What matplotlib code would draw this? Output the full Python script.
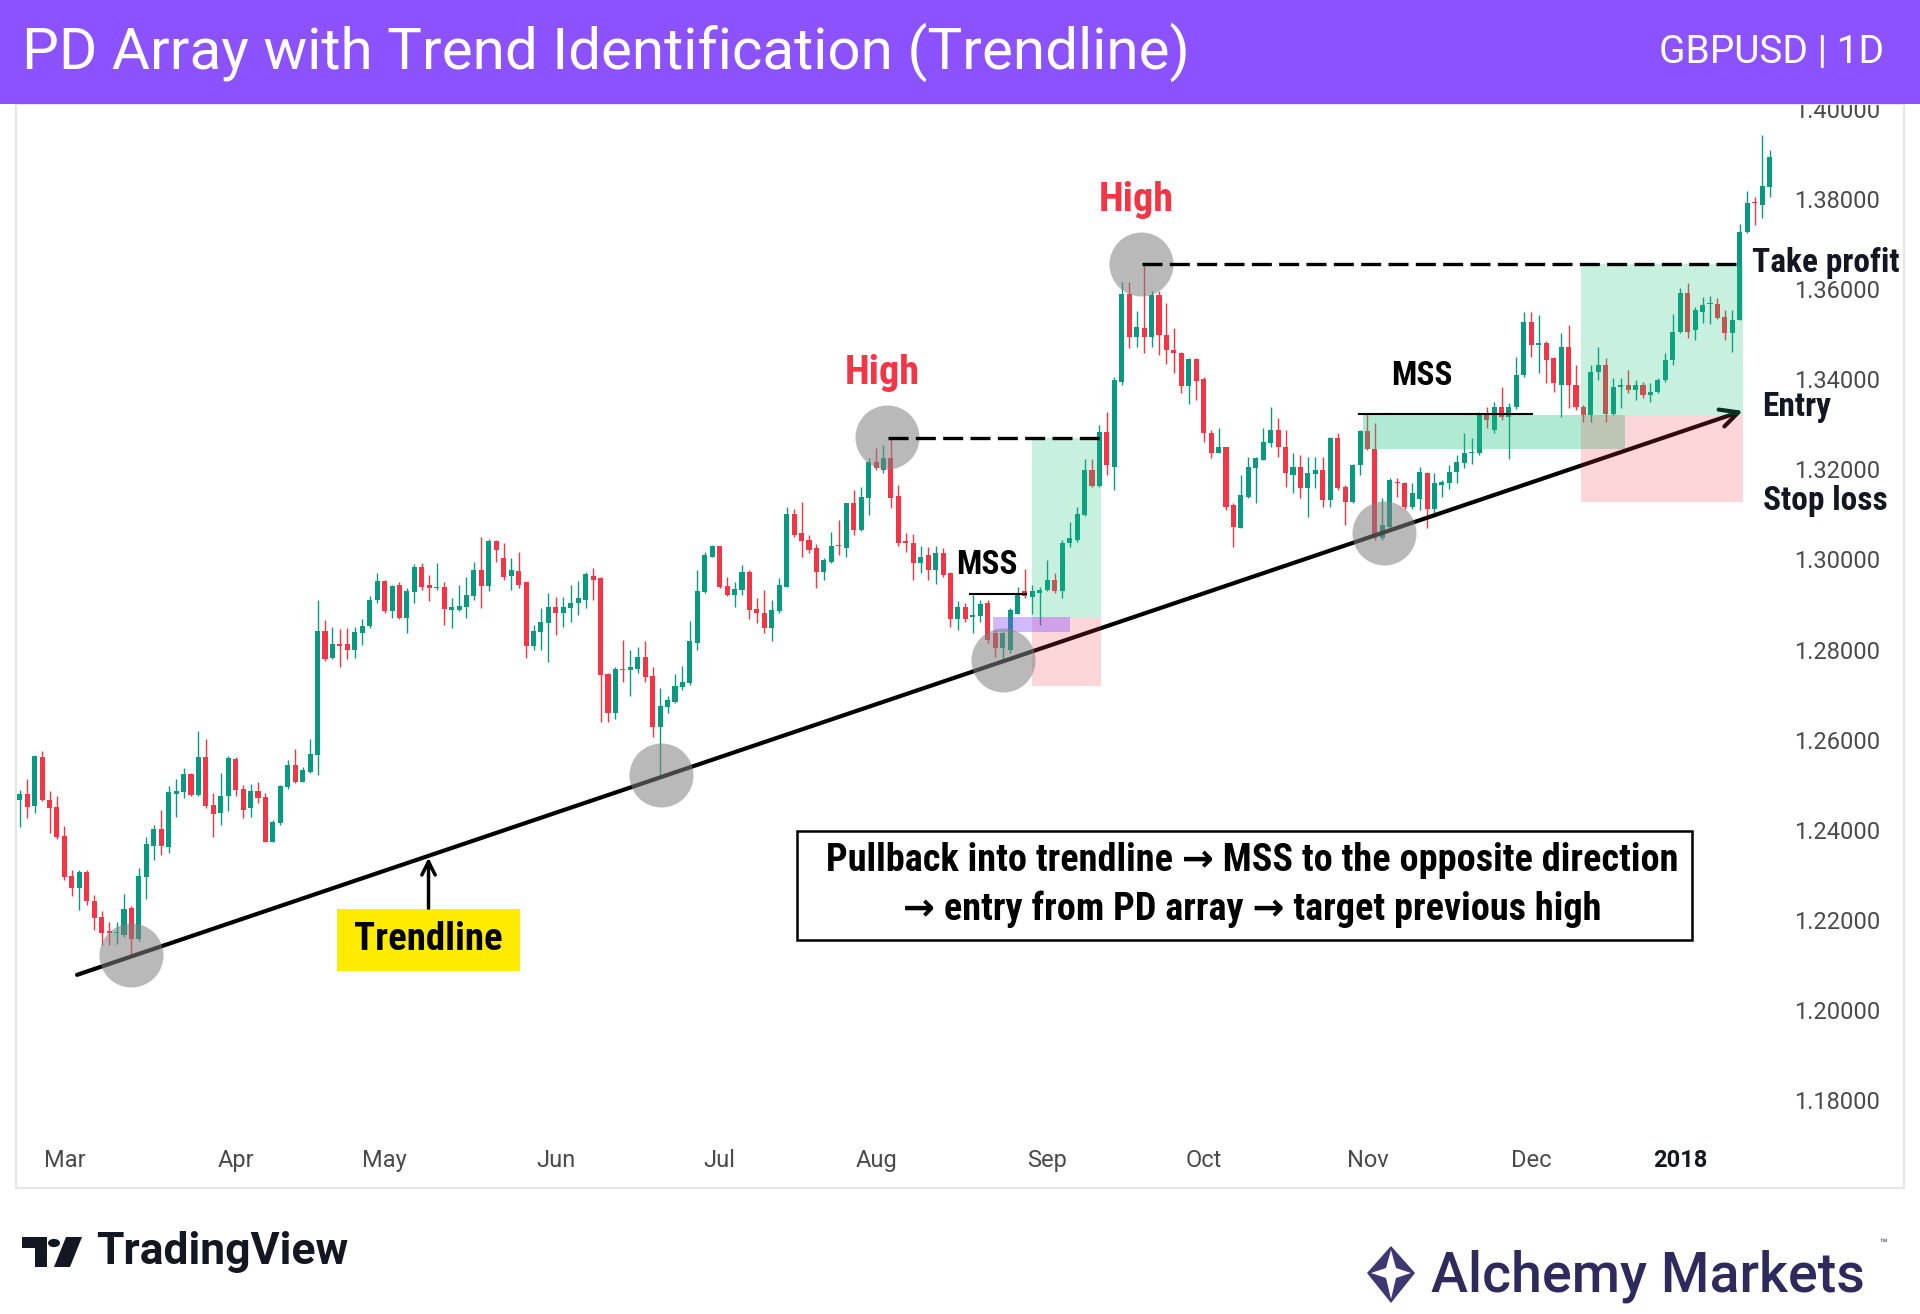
import matplotlib
matplotlib.use("Agg")
import matplotlib.pyplot as plt
from matplotlib import font_manager
from matplotlib.patches import Rectangle, Polygon, Circle
import pandas as pd

# GBPUSD daily bars, 21 Feb 2017 - 17 Jan 2018 (no bar on Christmas day)
dates = pd.bdate_range("2017-02-21", "2018-01-17")
dates = dates[dates != pd.Timestamp("2017-12-25")]

opens = [
    1.2466, 1.2480, 1.2452, 1.2561, 1.2466, 1.2450, 1.2386, 1.2298, 1.2270, 1.2306,
    1.2243, 1.2206, 1.2176, 1.2170, 1.2167, 1.2226, 1.2157, 1.2295, 1.2364, 1.2401,
    1.2361, 1.2480, 1.2483, 1.2524, 1.2477, 1.2561, 1.2455, 1.2437, 1.2474, 1.2557,
    1.2490, 1.2448, 1.2485, 1.2472, 1.2374, 1.2416, 1.2496, 1.2544, 1.2507, 1.2529,
    1.2566, 1.2842, 1.2781, 1.2813, 1.2813, 1.2798, 1.2837, 1.2853, 1.2909, 1.2953,
    1.2885, 1.2944, 1.2870, 1.2927, 1.2984, 1.2944, 1.2936, 1.2940, 1.2888, 1.2887,
    1.2895, 1.2919, 1.2977, 1.2941, 1.3040, 1.3003, 1.2963, 1.2975, 1.2949, 1.2807,
    1.2840, 1.2858, 1.2894, 1.2881, 1.2892, 1.2903, 1.2910, 1.2963, 1.2958, 1.2746,
    1.2659, 1.2758, 1.2755, 1.2758, 1.2783, 1.2741, 1.2629, 1.2673, 1.2684, 1.2718,
    1.2725, 1.2814, 1.2927, 1.3006, 1.3029, 1.2941, 1.2921, 1.2932, 1.2973, 1.2890,
    1.2882, 1.2847, 1.2885, 1.2940, 1.3102, 1.3058, 1.3043, 1.3025, 1.2973, 1.2995,
    1.3032, 1.3025, 1.3125, 1.3066, 1.3136, 1.3217, 1.3198, 1.3225, 1.3140, 1.3040,
    1.3036, 1.2992, 1.3010, 1.2977, 1.3014, 1.2971, 1.2869, 1.2894, 1.2873, 1.2874,
    1.2903, 1.2836, 1.2803, 1.2799, 1.2880, 1.2931, 1.2917, 1.2926, 1.2932, 1.2954,
    1.2929, 1.3036, 1.3043, 1.3099, 1.3199, 1.3163, 1.3284, 1.3206, 1.3395, 1.3589,
    1.3493, 1.3513, 1.3493, 1.3587, 1.3498, 1.3465, 1.3458, 1.3385, 1.3444, 1.3400,
    1.3280, 1.3237, 1.3250, 1.3121, 1.3071, 1.3139, 1.3202, 1.3221, 1.3258, 1.3287,
    1.3250, 1.3188, 1.3206, 1.3158, 1.3190, 1.3199, 1.3132, 1.3269, 1.3162, 1.3128,
    1.3210, 1.3286, 1.3245, 1.3047, 1.3073, 1.3173, 1.3169, 1.3117, 1.3135, 1.3191,
    1.3113, 1.3165, 1.3169, 1.3195, 1.3214, 1.3236, 1.3237, 1.3321, 1.3287, 1.3339,
    1.3317, 1.3339, 1.3410, 1.3528, 1.3476, 1.3480, 1.3447, 1.3387, 1.3472, 1.3387,
    1.3339, 1.3321, 1.3417, 1.3432, 1.3324, 1.3384, 1.3387, 1.3376, 1.3387, 1.3365,
    1.3372, 1.3398, 1.3443, 1.3506, 1.3591, 1.3509, 1.3550, 1.3567, 1.3567, 1.3539,
    1.3502, 1.3532, 1.3728, 1.3794, 1.3787, 1.3826,
]
highs = [
    1.2489, 1.2512, 1.2566, 1.2576, 1.2485, 1.2475, 1.2409, 1.2311, 1.2310, 1.2310,
    1.2256, 1.2219, 1.2196, 1.2196, 1.2258, 1.2231, 1.2315, 1.2385, 1.2411, 1.2443,
    1.2497, 1.2512, 1.2537, 1.2527, 1.2620, 1.2601, 1.2481, 1.2526, 1.2564, 1.2561,
    1.2500, 1.2502, 1.2507, 1.2481, 1.2422, 1.2500, 1.2554, 1.2579, 1.2539, 1.2601,
    1.2909, 1.2866, 1.2850, 1.2845, 1.2847, 1.2850, 1.2867, 1.2919, 1.2970, 1.2955,
    1.2944, 1.2951, 1.2936, 1.2990, 1.2992, 1.2966, 1.2992, 1.2951, 1.2914, 1.2944,
    1.2962, 1.2995, 1.3051, 1.3045, 1.3044, 1.3036, 1.3003, 1.3017, 1.2951, 1.2855,
    1.2892, 1.2925, 1.2917, 1.2917, 1.2943, 1.2953, 1.2973, 1.2981, 1.2962, 1.2747,
    1.2761, 1.2821, 1.2799, 1.2806, 1.2818, 1.2762, 1.2714, 1.2696, 1.2746, 1.2764,
    1.2864, 1.2977, 1.3017, 1.3032, 1.3030, 1.2962, 1.2949, 1.2988, 1.2977, 1.2914,
    1.2932, 1.2910, 1.2958, 1.3116, 1.3112, 1.3128, 1.3054, 1.3034, 1.3003, 1.3062,
    1.3088, 1.3126, 1.3154, 1.3162, 1.3225, 1.3247, 1.3254, 1.3270, 1.3165, 1.3058,
    1.3057, 1.3030, 1.3028, 1.3030, 1.3025, 1.2973, 1.2907, 1.2903, 1.2921, 1.2911,
    1.2911, 1.2843, 1.2840, 1.2892, 1.2940, 1.2980, 1.2943, 1.2940, 1.2999, 1.2969,
    1.3043, 1.3084, 1.3117, 1.3224, 1.3224, 1.3299, 1.3328, 1.3406, 1.3617, 1.3617,
    1.3552, 1.3655, 1.3595, 1.3595, 1.3570, 1.3513, 1.3461, 1.3447, 1.3447, 1.3406,
    1.3287, 1.3291, 1.3250, 1.3125, 1.3187, 1.3228, 1.3228, 1.3291, 1.3339, 1.3313,
    1.3287, 1.3236, 1.3232, 1.3227, 1.3227, 1.3227, 1.3273, 1.3280, 1.3165, 1.3213,
    1.3287, 1.3323, 1.3302, 1.3136, 1.3180, 1.3180, 1.3173, 1.3169, 1.3205, 1.3195,
    1.3191, 1.3176, 1.3210, 1.3232, 1.3280, 1.3269, 1.3328, 1.3339, 1.3350, 1.3384,
    1.3347, 1.3450, 1.3550, 1.3550, 1.3543, 1.3484, 1.3450, 1.3502, 1.3521, 1.3432,
    1.3343, 1.3432, 1.3472, 1.3447, 1.3402, 1.3402, 1.3421, 1.3398, 1.3395, 1.3391,
    1.3402, 1.3458, 1.3546, 1.3602, 1.3613, 1.3561, 1.3583, 1.3585, 1.3580, 1.3554,
    1.3554, 1.3745, 1.3819, 1.3805, 1.3942, 1.3910,
]
lows = [
    1.2407, 1.2426, 1.2437, 1.2463, 1.2392, 1.2379, 1.2289, 1.2252, 1.2222, 1.2233,
    1.2178, 1.2145, 1.2145, 1.2147, 1.2163, 1.2122, 1.2154, 1.2246, 1.2333, 1.2344,
    1.2348, 1.2429, 1.2470, 1.2475, 1.2474, 1.2448, 1.2385, 1.2411, 1.2441, 1.2474,
    1.2426, 1.2429, 1.2459, 1.2372, 1.2372, 1.2411, 1.2490, 1.2503, 1.2505, 1.2527,
    1.2522, 1.2774, 1.2779, 1.2762, 1.2779, 1.2781, 1.2811, 1.2848, 1.2904, 1.2882,
    1.2870, 1.2868, 1.2836, 1.2904, 1.2933, 1.2907, 1.2933, 1.2855, 1.2848, 1.2885,
    1.2870, 1.2910, 1.2892, 1.2929, 1.2995, 1.2955, 1.2932, 1.2936, 1.2781, 1.2799,
    1.2799, 1.2773, 1.2832, 1.2851, 1.2862, 1.2877, 1.2892, 1.2910, 1.2640, 1.2640,
    1.2647, 1.2729, 1.2696, 1.2747, 1.2729, 1.2607, 1.2522, 1.2659, 1.2681, 1.2710,
    1.2721, 1.2799, 1.2925, 1.3005, 1.2936, 1.2918, 1.2895, 1.2921, 1.2869, 1.2858,
    1.2836, 1.2818, 1.2882, 1.2938, 1.3051, 1.3006, 1.3014, 1.2936, 1.2954, 1.2992,
    1.3010, 1.3005, 1.3054, 1.3064, 1.3099, 1.3199, 1.3191, 1.3114, 1.3029, 1.3017,
    1.2955, 1.2969, 1.2955, 1.2946, 1.2962, 1.2851, 1.2844, 1.2862, 1.2836, 1.2862,
    1.2814, 1.2784, 1.2775, 1.2792, 1.2880, 1.2914, 1.2880, 1.2854, 1.2929, 1.2925,
    1.2914, 1.3028, 1.3039, 1.3096, 1.3162, 1.3162, 1.3188, 1.3154, 1.3387, 1.3469,
    1.3471, 1.3458, 1.3472, 1.3454, 1.3435, 1.3413, 1.3369, 1.3345, 1.3354, 1.3261,
    1.3225, 1.3236, 1.3110, 1.3028, 1.3069, 1.3136, 1.3125, 1.3221, 1.3250, 1.3228,
    1.3162, 1.3147, 1.3136, 1.3095, 1.3158, 1.3117, 1.3117, 1.3154, 1.3077, 1.3125,
    1.3188, 1.3243, 1.3043, 1.3043, 1.3069, 1.3139, 1.3113, 1.3113, 1.3110, 1.3069,
    1.3095, 1.3139, 1.3156, 1.3169, 1.3202, 1.3213, 1.3232, 1.3291, 1.3280, 1.3310,
    1.3222, 1.3335, 1.3406, 1.3450, 1.3413, 1.3391, 1.3372, 1.3317, 1.3336, 1.3332,
    1.3306, 1.3306, 1.3398, 1.3306, 1.3321, 1.3336, 1.3369, 1.3354, 1.3358, 1.3350,
    1.3369, 1.3395, 1.3432, 1.3502, 1.3491, 1.3487, 1.3524, 1.3523, 1.3533, 1.3487,
    1.3461, 1.3532, 1.3724, 1.3742, 1.3757, 1.3804,
]
closes = [
    1.2480, 1.2450, 1.2563, 1.2466, 1.2448, 1.2384, 1.2296, 1.2270, 1.2306, 1.2241,
    1.2204, 1.2170, 1.2170, 1.2172, 1.2224, 1.2157, 1.2298, 1.2369, 1.2401, 1.2363,
    1.2483, 1.2487, 1.2524, 1.2477, 1.2561, 1.2453, 1.2435, 1.2475, 1.2559, 1.2489,
    1.2444, 1.2487, 1.2470, 1.2374, 1.2418, 1.2497, 1.2544, 1.2507, 1.2532, 1.2569,
    1.2842, 1.2779, 1.2813, 1.2808, 1.2798, 1.2838, 1.2853, 1.2910, 1.2953, 1.2885,
    1.2941, 1.2870, 1.2931, 1.2984, 1.2940, 1.2936, 1.2940, 1.2890, 1.2894, 1.2897,
    1.2921, 1.2977, 1.2941, 1.3042, 1.3020, 1.2962, 1.2977, 1.2943, 1.2807, 1.2842,
    1.2862, 1.2895, 1.2881, 1.2894, 1.2904, 1.2914, 1.2968, 1.2955, 1.2744, 1.2659,
    1.2758, 1.2755, 1.2762, 1.2783, 1.2740, 1.2629, 1.2675, 1.2688, 1.2719, 1.2727,
    1.2818, 1.2929, 1.3010, 1.3029, 1.2940, 1.2921, 1.2934, 1.2973, 1.2888, 1.2881,
    1.2847, 1.2888, 1.2943, 1.3102, 1.3054, 1.3040, 1.3021, 1.2973, 1.2999, 1.3030,
    1.3030, 1.3125, 1.3066, 1.3138, 1.3217, 1.3202, 1.3225, 1.3136, 1.3036, 1.3036,
    1.2992, 1.3006, 1.2977, 1.3014, 1.2966, 1.2869, 1.2895, 1.2869, 1.2877, 1.2901,
    1.2821, 1.2803, 1.2836, 1.2888, 1.2921, 1.2919, 1.2929, 1.2932, 1.2954, 1.2929,
    1.3036, 1.3047, 1.3102, 1.3199, 1.3163, 1.3284, 1.3210, 1.3398, 1.3589, 1.3493,
    1.3515, 1.3493, 1.3587, 1.3498, 1.3464, 1.3458, 1.3385, 1.3444, 1.3397, 1.3280,
    1.3236, 1.3250, 1.3117, 1.3073, 1.3143, 1.3206, 1.3225, 1.3261, 1.3287, 1.3250,
    1.3191, 1.3206, 1.3158, 1.3191, 1.3199, 1.3132, 1.3269, 1.3158, 1.3128, 1.3210,
    1.3286, 1.3245, 1.3047, 1.3077, 1.3176, 1.3169, 1.3117, 1.3147, 1.3195, 1.3113,
    1.3169, 1.3172, 1.3195, 1.3217, 1.3236, 1.3239, 1.3321, 1.3310, 1.3339, 1.3317,
    1.3339, 1.3410, 1.3528, 1.3476, 1.3480, 1.3443, 1.3391, 1.3472, 1.3387, 1.3339,
    1.3321, 1.3417, 1.3432, 1.3324, 1.3384, 1.3387, 1.3376, 1.3387, 1.3365, 1.3372,
    1.3398, 1.3443, 1.3506, 1.3591, 1.3506, 1.3554, 1.3565, 1.3569, 1.3537, 1.3502,
    1.3532, 1.3728, 1.3792, 1.3791, 1.3828, 1.3893,
]

price_ticks = [1.18, 1.20, 1.22, 1.24, 1.26, 1.28, 1.30, 1.32, 1.34, 1.36, 1.38, 1.40]

# swing points touched by the trendline and the two highs (bar index, price)
swing_x = [14.9, 86.1, 116.5, 132.1, 150.6, 183.2]
swing_y = [1.2122, 1.2522, 1.3272, 1.2777, 1.3655, 1.3059]

trend_start = (7.7, 1.2078)
trend_end = (231.4, 1.3330)

# first setup (Aug - Sep)
high1_x = 116.6
tp1, entry1, stop1 = 1.3270, 1.2872, 1.2719
trade1_x = (136.0, 145.2)
pd_array1 = (130.7, 141.1, 1.2839, 1.2872)
mss1 = (127.6, 135.1, 1.2923)

# second setup (Nov - Jan)
high2_x = 150.7
tp2, entry2, stop2 = 1.3655, 1.3321, 1.3128
trade2_x = (209.7, 231.4)
mss_zone2 = (180.4, 215.6, 1.3245, 1.3321)
mss2 = (179.9, 203.1, 1.3322)

UP = "#089981"
DOWN = "#f23645"

installed = {f.name for f in font_manager.fontManager.ttflist}
cond = "Roboto"
for name in ["Roboto Condensed", "Liberation Sans Narrow"]:
    if name in installed:
        cond = name
        break
bold = dict(family=[cond, "DejaVu Sans"], fontweight="bold")

plt.rcParams["font.family"] = ["Roboto", "DejaVu Sans"]

W, H = 1920, 1314


def fx(px):
    return px / W


def fy(py):
    return 1 - py / H


fig = plt.figure(figsize=(19.2, 13.14), dpi=100)
fig.patch.set_facecolor("white")
ax = fig.add_axes([fx(16), fy(1130), fx(1780) - fx(16), fy(104) - fy(1130)])

# candles
x = list(range(len(dates)))
colors = [UP if c >= o else DOWN for o, c in zip(opens, closes)]
bottoms = [min(o, c) for o, c in zip(opens, closes)]
heights = [max(abs(c - o), 0.00025) for o, c in zip(opens, closes)]
ax.vlines(x, lows, highs, colors=colors, lw=1.0, zorder=2)
ax.bar(x, heights, bottom=bottoms, width=0.68, color=colors, zorder=2.1)

# trendline
ax.annotate("", xy=trend_end, xytext=trend_start, zorder=3,
            arrowprops=dict(arrowstyle="->", lw=3, color="black",
                            mutation_scale=32, shrinkA=0, shrinkB=0))

# swing circles
ax.scatter(swing_x, swing_y, s=2125, color="#808080", alpha=0.55,
           linewidths=0, zorder=5)

# setup 1 boxes
ax.add_patch(Rectangle((trade1_x[0], entry1), trade1_x[1] - trade1_x[0], tp1 - entry1,
                       facecolor="#22c47f", alpha=0.25, lw=0, zorder=4))
ax.add_patch(Rectangle((trade1_x[0], stop1), trade1_x[1] - trade1_x[0], entry1 - stop1,
                       facecolor=DOWN, alpha=0.2, lw=0, zorder=4))
ax.add_patch(Rectangle((pd_array1[0], pd_array1[2]), pd_array1[1] - pd_array1[0],
                       pd_array1[3] - pd_array1[2],
                       facecolor="#8c52ff", alpha=0.4, lw=0, zorder=4))
ax.plot([high1_x, trade1_x[1]], [tp1, tp1], color="black", lw=2.4,
        linestyle=(0, (6, 2.2)), zorder=6)
ax.plot([mss1[0], mss1[1]], [mss1[2], mss1[2]], color="black", lw=1.5, zorder=6)

# setup 2 boxes
ax.add_patch(Rectangle((mss_zone2[0], mss_zone2[2]), mss_zone2[1] - mss_zone2[0],
                       mss_zone2[3] - mss_zone2[2],
                       facecolor="#22c47f", alpha=0.35, lw=0, zorder=4))
ax.add_patch(Rectangle((trade2_x[0], entry2), trade2_x[1] - trade2_x[0], tp2 - entry2,
                       facecolor="#22c47f", alpha=0.25, lw=0, zorder=4))
ax.add_patch(Rectangle((trade2_x[0], stop2), trade2_x[1] - trade2_x[0], entry2 - stop2,
                       facecolor=DOWN, alpha=0.2, lw=0, zorder=4))
ax.plot([high2_x, trade2_x[1]], [tp2, tp2], color="black", lw=2.4,
        linestyle=(0, (6, 2.2)), zorder=6)
ax.plot([mss2[0], mss2[1]], [mss2[2], mss2[2]], color="black", lw=1.5, zorder=6)

# labels
ax.text(115.8, 1.3414, "High", color=DOWN, fontsize=29, ha="center", va="center", zorder=8, **bold)
ax.text(149.9, 1.3798, "High", color=DOWN, fontsize=29, ha="center", va="center", zorder=8, **bold)
ax.text(129.9, 1.2988, "MSS", color="black", fontsize=24, ha="center", va="center", zorder=8, **bold)
ax.text(188.3, 1.3407, "MSS", color="black", fontsize=24, ha="center", va="center", zorder=8, **bold)
ax.text(232.7, 1.3658, "Take profit", color="#131722", fontsize=24, ha="left", va="center", zorder=8, **bold)
ax.text(234.0, 1.3339, "Entry", color="#131722", fontsize=24, ha="left", va="center", zorder=8, **bold)
ax.text(234.1, 1.3130, "Stop loss", color="#131722", fontsize=24, ha="left", va="center", zorder=8, **bold)

# trendline tag
ax.add_patch(Rectangle((42.6, 1.2087), 24.6, 0.0137, facecolor="#ffeb00", lw=0, zorder=7))
ax.text(54.9, 1.2156, "Trendline", color="black", fontsize=28, ha="center", va="center", zorder=8, **bold)
ax.annotate("", xy=(54.9, 1.2338), xytext=(54.9, 1.2226), zorder=7,
            arrowprops=dict(arrowstyle="->", lw=2.5, color="black",
                            mutation_scale=24, shrinkA=0, shrinkB=0))

# explanation box
ax.add_patch(Rectangle((104.4, 1.2156), 120.2, 0.0241, facecolor="white",
                       edgecolor="black", lw=1.8, zorder=7))
ax.text(165.5, 1.2331, "Pullback into trendline \u2192 MSS to the opposite direction",
        color="black", fontsize=27.5, ha="center", va="center", zorder=8, **bold)
ax.text(165.5, 1.2224, "\u2192 entry from PD array \u2192 target previous high",
        color="black", fontsize=27.5, ha="center", va="center", zorder=8, **bold)

# axes styling
month_pos = [i for i in range(1, len(dates)) if dates[i].month != dates[i - 1].month]
month_lab = ["2018" if dates[i].year == 2018 else dates[i].strftime("%b") for i in month_pos]

ax.set_xlim(-0.5, 236.4)
ax.set_ylim(1.17336, 1.40111)
ax.set_yticks(price_ticks)
ax.set_yticklabels([f"{v:.5f}" for v in price_ticks])
ax.yaxis.tick_right()
ax.set_xticks(month_pos)
ax.set_xticklabels(month_lab)
ax.tick_params(axis="y", length=0, pad=10, labelsize=17, labelcolor="#4a4a4a")
ax.tick_params(axis="x", length=0, pad=14, labelsize=17, labelcolor="#4a4a4a")
ax.get_xticklabels()[-1].set_fontweight("bold")
ax.get_xticklabels()[-1].set_color("#131722")
for s in ax.spines.values():
    s.set_visible(False)

# chart frame
fig.add_artist(Rectangle((fx(16), fy(1188)), fx(1904) - fx(16), fy(104) - fy(1188),
                         transform=fig.transFigure, fill=False,
                         edgecolor="#e6e6e6", lw=1.5, zorder=1))

# title band
fig.add_artist(Rectangle((0, fy(104)), 1, 104 / H, transform=fig.transFigure,
                         facecolor="#8c52ff", lw=0, zorder=10))
fig.text(fx(22), fy(52), "PD Array with Trend Identification (Trendline)",
         color="white", fontsize=42, ha="left", va="center", zorder=11)
fig.text(fx(1884), fy(52), "GBPUSD | 1D", color="white", fontsize=28,
         ha="right", va="center", zorder=11)


# footer logos
def poly(points, color):
    pts = [(fx(a), fy(b)) for a, b in points]
    fig.add_artist(Polygon(pts, closed=True, transform=fig.transFigure,
                           facecolor=color, lw=0, zorder=11))


poly([(22, 1237), (47, 1237), (47, 1267), (35, 1267), (35, 1248), (22, 1248)], "#131722")
fig.add_artist(Circle((fx(54), fy(1243)), 6 / W, transform=fig.transFigure,
                      facecolor="#131722", lw=0, zorder=11))
poly([(66, 1237), (82, 1237), (70, 1267), (54, 1267)], "#131722")
fig.text(fx(96), fy(1252), "TradingView", color="#131722", fontsize=32,
         fontweight="bold", ha="left", va="center")

poly([(1391, 1246), (1415, 1273), (1391, 1303), (1367, 1273)], "#3d3872")
poly([(1391, 1250), (1396, 1268), (1411, 1273), (1396, 1278), (1391, 1299),
      (1386, 1278), (1371, 1273), (1386, 1268)], "white")
fig.text(fx(1431), fy(1276), "Alchemy Markets", color="#2e2a5c", fontsize=40,
         fontweight="medium", ha="left", va="center")
fig.text(fx(1879), fy(1244), "\u2122", color="#2e2a5c", fontsize=9, ha="left", va="center")

fig.savefig("out.png", dpi=100)
